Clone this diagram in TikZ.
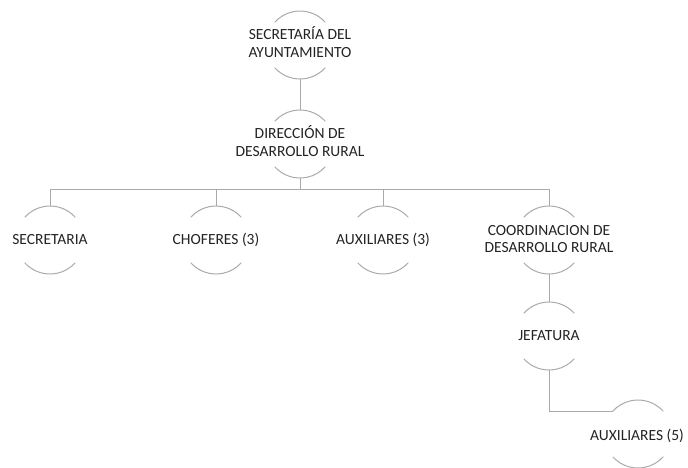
\documentclass[tikz,border=0pt]{standalone}
\usepackage{fontspec}
\setmainfont{Carlito}
\definecolor{linec}{RGB}{170,170,170}
\definecolor{txtc}{RGB}{35,35,35}
\tikzset{
  orgcirc/.style={circle, minimum size=68pt, inner sep=0pt, outer sep=0pt, draw=none},
  orgtext/.style={align=center, font=\fontsize{15.5}{17.5}\selectfont, text=txtc, inner sep=0pt},
  conn/.style={draw=linec, line width=1pt},
  arcst/.style={draw=linec, line width=1pt}
}
\newcommand\orgarcs[1]{%
  \draw[arcst] (#1.42) arc[start angle=42,end angle=138,radius=34pt];
  \draw[arcst] (#1.222) arc[start angle=222,end angle=318,radius=34pt];}
\begin{document}
\begin{tikzpicture}[x=1pt,y=1pt]
\useasboundingbox (0,0) rectangle (688,-467);
% circles
\node[orgcirc] (c1) at (300,-45) {};
\node[orgcirc] (c2) at (300,-144) {};
\node[orgcirc] (c3) at (50,-240) {};
\node[orgcirc] (c4) at (216,-240) {};
\node[orgcirc] (c5) at (383,-240) {};
\node[orgcirc] (c6) at (549,-240) {};
\node[orgcirc] (c7) at (549,-336) {};
\node[orgcirc] (c8) at (638,-434) {};
\foreach \n in {c1,c2,c3,c4,c5,c6,c7,c8} {\orgarcs{\n}}
% texts
\node[orgtext] (t1) at (300,-42) {SECRETARÍA DEL\\AYUNTAMIENTO};
\node[orgtext] (t2) at (300,-141) {DIRECCIÓN DE\\DESARROLLO RURAL};
\node[orgtext] (t3) at (c3) {SECRETARIA};
\node[orgtext] (t4) at (c4) {CHOFERES (3)};
\node[orgtext] (t5) at (c5) {AUXILIARES (3)};
\node[orgtext] (t6) at (549,-239) {COORDINACION DE\\DESARROLLO RURAL};
\node[orgtext] (t7) at (c7) {JEFATURA};
\node[orgtext] (t8) at (637,-436) {AUXILIARES (5)};
% connectors
\draw[conn] (c1.south) -- (c2.north);
\foreach \k in {c3,c4,c5,c6} {\draw[conn] (c2.south) -- ++(0,-11) -| (\k.north);}
\draw[conn] (c6.south) -- (c7.north);
\draw[conn] (c7.south) |- (c8.138);
\end{tikzpicture}
\end{document}
